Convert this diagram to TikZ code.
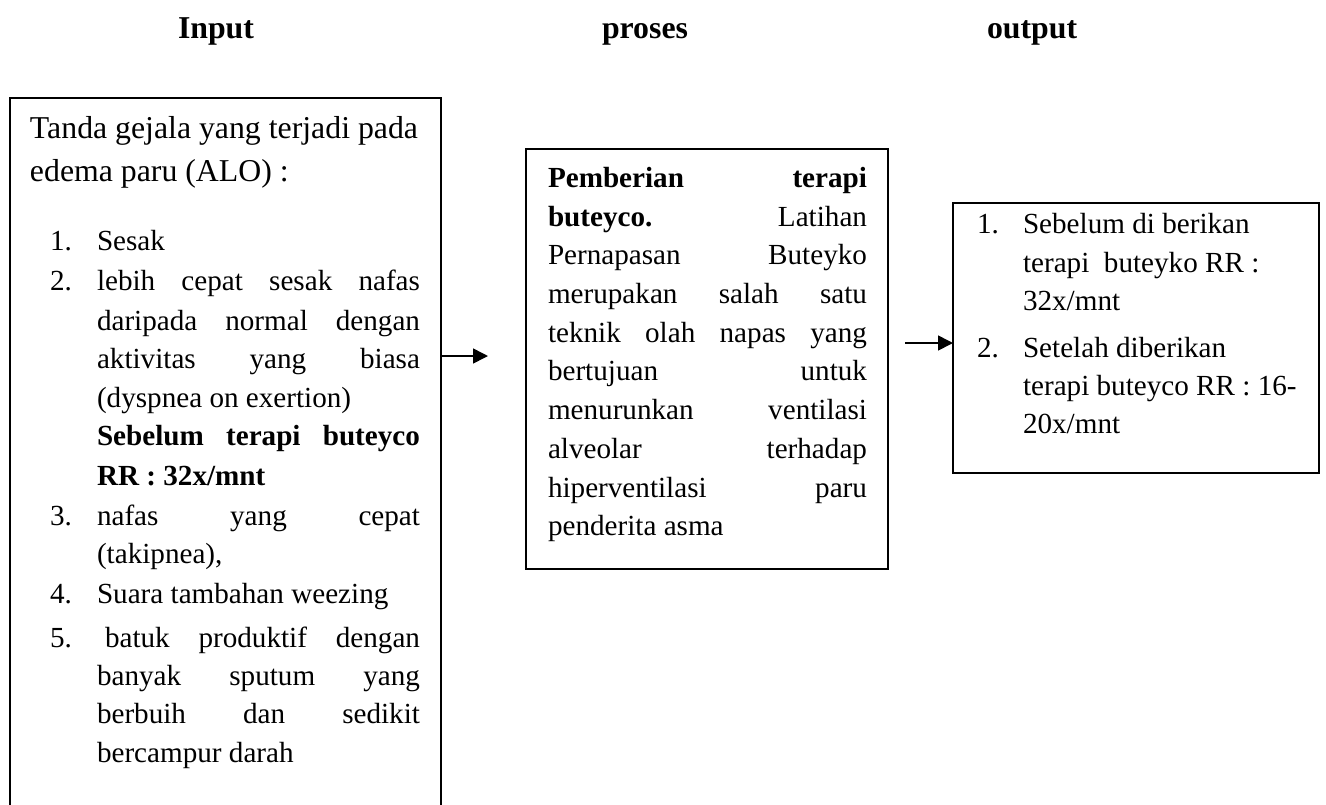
\documentclass[tikz,border=0pt]{standalone}
\usepackage{fontspec}
\setmainfont{Liberation Serif}
\usetikzlibrary{arrows.meta}
\tikzset{
  txt/.style={anchor=base west, inner sep=0pt, outer sep=0pt},
  big/.style={txt, font=\fontsize{31.8}{38}\selectfont},
  box/.style={draw, line width=1.6pt, anchor=north west, inner sep=0pt, outer sep=0pt},
  arrow/.style={line width=1.6pt, -{Triangle[length=15pt,width=15pt]}},
  head/.style={txt, font=\fontsize{31.8}{38}\selectfont\bfseries}
}
\newcommand\putline[4]{\node[txt] (#1) at (#2,#3) {#4};}
\newcommand\jline[5]{\node[txt] (#1) at (#2,#3) {\makebox[#4pt][s]{#5}};}
\begin{document}
\begin{tikzpicture}[x=1pt,y=-1pt,font=\fontsize{29.15}{36}\selectfont]
\useasboundingbox (0,0) rectangle (1326,804);
% headers
\node[head] (hin) at (178,38) {Input};
\node[head] (hpr) at (602,38) {proses};
\node[head] (hout) at (987,38) {output};
% boxes
\node[box, minimum width=431pt, minimum height=730pt] (in) at (10,98) {};
\node[box, minimum width=362pt, minimum height=420pt] (pr) at (526,149) {};
\node[box, minimum width=366pt, minimum height=270pt] (out) at (953,203) {};
% input text
\node[big] (i0) at (30,138) {Tanda gejala yang terjadi pada};
\node[big] (i0b) at (30,181) {edema paru (ALO) :};
\putline{n1}{50}{250}{1.}
\putline{i1}{97}{250}{Sesak}
\putline{n2}{50}{290}{2.}
\jline{i2a}{97}{290}{323}{lebih cepat sesak nafas}
\jline{i2b}{97}{330}{323}{daripada normal dengan}
\jline{i2c}{97}{368}{323}{aktivitas yang biasa}
\putline{i2d}{97}{407}{(dyspnea on exertion)}
\jline{i2e}{97}{445}{323}{\bfseries Sebelum terapi buteyco}
\putline{i2f}{97}{485}{\bfseries RR : 32x/mnt}
\putline{n3}{50}{525}{3.}
\jline{i3a}{97}{525}{323}{nafas yang cepat}
\putline{i3b}{97}{563}{(takipnea),}
\putline{n4}{50}{603}{4.}
\putline{i4}{97}{603}{Suara tambahan weezing}
\putline{n5}{50}{647}{5.}
\jline{i5a}{105}{647}{315}{batuk produktif dengan}
\jline{i5b}{97}{685}{323}{banyak sputum yang}
\jline{i5c}{97}{723}{323}{berbuih dan sedikit}
\putline{i5d}{97}{762}{bercampur darah}
% proses text
\jline{p1}{548}{187}{319}{\bfseries Pemberian terapi}
\jline{p2}{548}{226}{319}{\textbf{buteyco.} Latihan}
\jline{p3}{548}{264}{319}{Pernapasan Buteyko}
\jline{p4}{548}{303}{319}{merupakan salah satu}
\jline{p5}{548}{342}{319}{teknik olah napas yang}
\jline{p6}{548}{380}{319}{bertujuan untuk}
\jline{p7}{548}{419}{319}{menurunkan ventilasi}
\jline{p8}{548}{458}{319}{alveolar terhadap}
\jline{p9}{548}{497}{319}{hiperventilasi paru}
\putline{p10}{548}{535}{penderita asma}
% output text
\putline{m1}{977}{233}{1.}
\putline{o1}{1023}{233}{Sebelum di berikan}
\putline{o2}{1023}{272}{terapi\ \ buteyko RR :}
\putline{o3}{1023}{310}{32x/mnt}
\putline{m2}{977}{357}{2.}
\putline{o4}{1023}{357}{Setelah diberikan}
\putline{o5}{1023}{395}{terapi buteyco RR : 16-}
\putline{o6}{1023}{433}{20x/mnt}
% connectors
\coordinate (a1end) at (488,356);
\draw[arrow] (in.east |- a1end) -- (a1end);
\coordinate (a2start) at (905,343);
\draw[arrow] (a2start) -- (a2start -| out.west);
\end{tikzpicture}
\end{document}
